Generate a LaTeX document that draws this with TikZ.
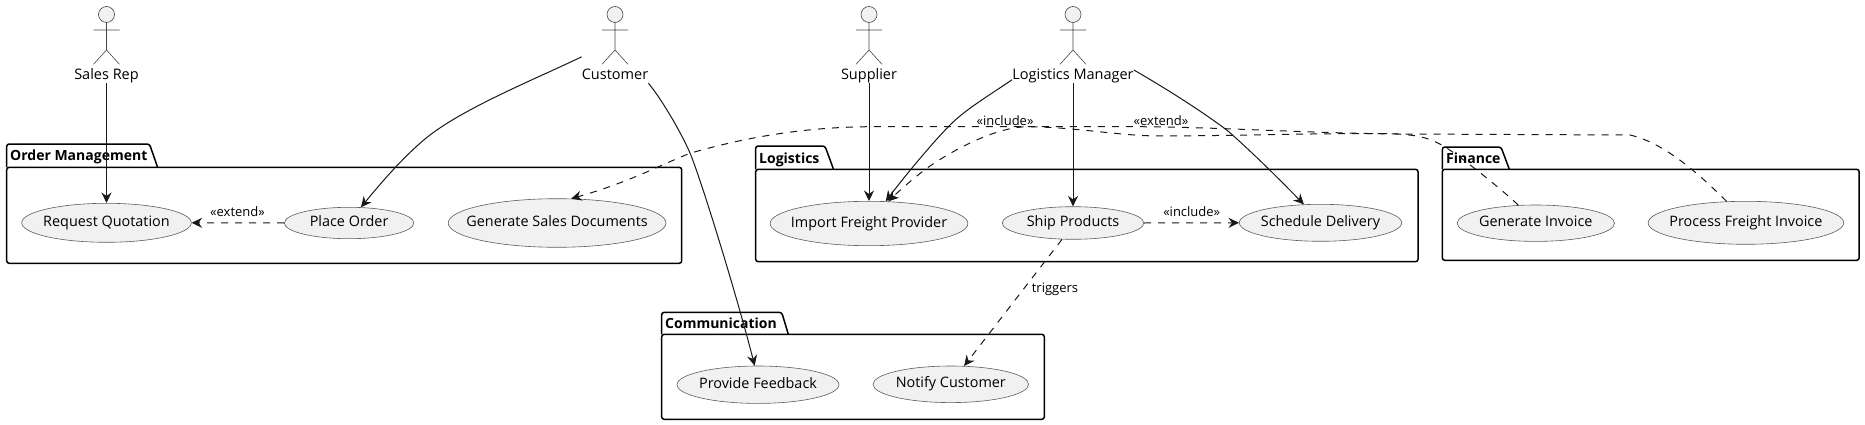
\documentclass[tikz,border=0pt]{standalone}
\usepackage{fontspec}
\setmainfont{Open Sans}
\usetikzlibrary{shapes.geometric,arrows.meta}
\definecolor{ink}{HTML}{181818}
\definecolor{uc}{HTML}{F1F1F1}
\newcommand{\uctxt}[1]{\makebox[0pt]{\raisebox{-3.5pt}[0pt][0pt]{#1}}}
\tikzset{
  x=1pt,y=-1pt,
  usecase/.style={ellipse,draw=ink!70,line width=.6pt,fill=uc,inner sep=0pt,font=\fontsize{14.4}{16}\selectfont,text=black},
  actorname/.style={font=\fontsize{14.5}{16}\selectfont,inner sep=0pt,text height=11pt,text depth=3pt,text=black},
  pkgline/.style={draw=black,line width=1.5pt,rounded corners=2.5pt},
  pkgname/.style={font=\fontsize{14}{16}\bfseries\selectfont,inner sep=0pt,text height=10.5pt,text depth=3pt,anchor=west,text=black},
  edgename/.style={font=\fontsize{13}{15}\selectfont,inner sep=0pt,text height=10pt,text depth=3pt,text=black},
  flow/.style={draw=ink,line width=1pt,-{Stealth[length=10.5pt,width=10pt,inset=3.5pt]}},
  dep/.style={flow,dash pattern=on 7pt off 7pt},
  actorfig/.pic={
    \draw[ink!80,line width=.6pt,fill=uc] (0,14.5) circle (8);
    \draw[ink!80,line width=.6pt] (0,22.7)--(0,50) (-13,30)--(13,30) (-13,64.3)--(0,50)--(13,64.3);
  }
}
\begin{document}
\begin{tikzpicture}
\useasboundingbox (0,0) rectangle (1865,425);
% packages
\draw[pkgline] (6.7,167.3)--(6.7,144)--(149.5,144)--(157.6,167.3);
\draw[pkgline] (6.7,167.3) rectangle (681.7,263.3);
\node[pkgname] (pOrder) at (10,157) {Order Management};
\draw[pkgline] (755.7,169.3)--(755.7,146)--(825,146)--(833.5,169.3);
\draw[pkgline] (755.7,169.3) rectangle (1418,261.7);
\node[pkgname] (pLog) at (759,159.3) {Logistics};
\draw[pkgline] (1442.3,169.3)--(1442.3,147)--(1501,147)--(1509.3,169.3);
\draw[pkgline] (1442.3,169.3) rectangle (1859.2,260.3);
\node[pkgname] (pFin) at (1446,159.5) {Finance};
\draw[pkgline] (661.7,334.3)--(661.7,312.3)--(781.7,312.3)--(788.3,334.3);
\draw[pkgline] (661.7,334.3) rectangle (1044.3,419.3);
\node[pkgname] (pCom) at (665,324.6) {Communication};
% actors
\pic at (106.5,0) {actorfig};
\pic at (615,0) {actorfig};
\pic at (869,0) {actorfig};
\pic at (1073,0) {actorfig};
\node[actorname] (rep) at (106.5,76) {Sales Rep};
\node[actorname] (cust) at (615,76) {Customer};
\node[actorname] (supp) at (869,76) {Supplier};
\node[actorname] (mgr) at (1073,76) {Logistics Manager};
% use cases
\node[usecase,minimum width=169.6pt,minimum height=39pt] (quote) at (106.5,222.8) {\uctxt{Request Quotation}};
\node[usecase,minimum width=129.4pt,minimum height=31.4pt] (order) at (349.1,223) {\uctxt{Place Order}};
\node[usecase,minimum width=217.8pt,minimum height=48.6pt] (docs) at (557.1,223) {\uctxt{Generate Sales Documents}};
\node[usecase,minimum width=197.8pt,minimum height=44.4pt] (freight) at (869,223.5) {\uctxt{Import Freight Provider}};
\node[usecase,minimum width=141.6pt,minimum height=32.6pt] (ship) at (1073,223) {\uctxt{Ship Products}};
\node[usecase,minimum width=162.4pt,minimum height=37pt] (sched) at (1320.5,222.8) {\uctxt{Schedule Delivery}};
\node[usecase,minimum width=157.4pt,minimum height=36.4pt] (inv) at (1535.8,223.2) {\uctxt{Generate Invoice}};
\node[usecase,minimum width=195.6pt,minimum height=43pt] (pfi) at (1745.9,222.8) {\uctxt{Process Freight Invoice}};
\node[usecase,minimum width=162pt,minimum height=37.4pt] (fb) at (758,384.7) {\uctxt{Provide Feedback}};
\node[usecase,minimum width=155.6pt,minimum height=36.6pt] (notify) at (950.8,384.3) {\uctxt{Notify Customer}};
% connectors
\draw[flow] (rep.south) -- (quote.north);
\draw[flow] ([yshift=12pt]cust.north west) .. controls (540,77) and (468,106) .. (430,135) .. controls (408,152) and (385,178) .. (order.53);
\draw[flow] (cust.south east) .. controls (660,97) and (680,130) .. (690,153) .. controls (702,182) and (738,300) .. (fb.100);
\draw[flow] (supp.south) -- (freight.north);
\draw[flow] ([yshift=3.5pt]mgr.south west) .. controls (985,98) and (965,110) .. (950,125) .. controls (935,140) and (908,172) .. (freight.53);
\draw[flow] (mgr.south) -- (ship.north);
\draw[flow] ([yshift=6pt]mgr.east) .. controls (1165,88) and (1200,110) .. (1226.7,130) .. controls (1250,150) and (1280,180) .. (sched.132);
\draw[dep] (order.west) -- (quote.east);
\draw[dep] (ship.east) -- (sched.west);
\draw[dep] (ship.-124) -- (notify.54);
\draw[dep] (pfi.132) .. controls (1700,175) and (1665,143) .. (1630,135) -- (1400,134) .. controls (1300,133) and (1220,127) .. (1136,126.7) -- (870,126.7) .. controls (820,127) and (760,133) .. (690,153.3) .. controls (660,165) and (630,182) .. (docs.60);
\draw[dep] (inv.134) .. controls (1500,188) and (1465,160) .. (1446.7,148) .. controls (1430,138) and (1420,134) .. (1380,133.5) .. controls (1300,133.5) and (1220,136) .. (1160,136) .. controls (1120,136) and (1075,127) .. (1027,126.7) .. controls (1000,127) and (960,145) .. (926.7,168.3) .. controls (915,177) and (900,190) .. (freight.49);
% edge labels
\node[edgename] (l1) at (237.5,213.2) {«extend»};
\node[edgename] (l2) at (1191.7,213.2) {«include»};
\node[edgename] (l3) at (1005,122.2) {«include»};
\node[edgename] (l4) at (1161,122.2) {«extend»};
\node[edgename] (l5) at (1055,289.2) {triggers};
\end{tikzpicture}
\end{document}
